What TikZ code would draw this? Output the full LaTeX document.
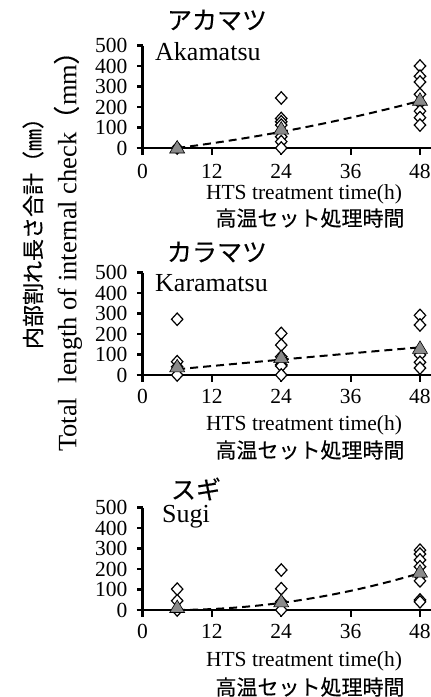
\documentclass[tikz,border=0pt]{standalone}
\usepackage{fontspec}
\setmainfont{Liberation Serif}
\newfontfamily\jfont[FakeBold=0.3]{Noto Sans CJK JP}
\definecolor{trigray}{HTML}{8A8A8A}
\tikzset{
  dmd/.pic={\draw[line width=1.2pt,fill=white] (-5.7pt,0)--(0,6.2pt)--(5.7pt,0)--(0,-6.2pt)--cycle;},
  tri/.pic={\draw[line width=0.6pt,fill=trigray] (0,7.5pt)--(-7.5pt,-5pt)--(7.5pt,-5pt)--cycle;},
  axisline/.style={line width=2.7pt},
  tickline/.style={line width=2.2pt},
  trend/.style={line width=2pt, dash pattern=on 8pt off 5pt},
  ticklab/.style={font=\fontsize{21.5}{21.5}\selectfont, inner sep=0pt},
  xlab/.style={font=\fontsize{21.5}{22}\selectfont, inner sep=0pt},
  jxlab/.style={font=\jfont\fontsize{21}{22}\selectfont, inner sep=0pt},
  title/.style={font=\jfont\fontsize{25}{26}\selectfont, inner sep=0pt},
  species/.style={font=\fontsize{26}{27}\selectfont, inner sep=0pt, anchor=base west}
}
\newcommand\drawaxes[2]{%
  \draw[axisline] (0,500) -- (0,0) -- ++(0,-7pt);
  \draw[axisline] (0,0) ++(-6pt,0) -- (50,0);
  \foreach \v in {100,200,300,400,500} {\draw[tickline] (0,\v) -- ++(-6pt,0);}
  \foreach \t in {12,24,36,48} {\draw[tickline] (\t,0) -- ++(0,-7pt);}
  \foreach \v in {0,100,200,300,400,500} {\node[ticklab, anchor=east, xshift=-15pt] (#1y\v) at (0,\v) {\v};}
  \foreach \t in {0,12,24,36,48} {\node[ticklab, yshift=-#2pt] (#1x\t) at (\t,0) {\t};}
}
\begin{document}
\begin{tikzpicture}[x=1pt,y=1pt]
\useasboundingbox (0,0) rectangle (431,-697);
\fill[white] (0,0) rectangle (431,-697);

% ---------- Panel 1: Akamatsu ----------
\begin{scope}[shift={(142.5pt,-148pt)}, x=5.781pt, y=0.205pt]
  \drawaxes{a}{23}
  \foreach \v in {0} {\pic at (6,\v) {dmd};}
  \foreach \v in {244,144,128,112,79,55,31,0} {\pic at (24,\v) {dmd};}
  \foreach \v in {400,350,322,262,220,180,148,112} {\pic at (48,\v) {dmd};}
  \draw[trend] plot[domain=6:48, samples=40] (\x, {4.389*(\x-6)+0.0453*(\x-6)*(\x-24)});
  \pic at (6,0) {tri};
  \pic at (24,92) {tri};
  \pic at (48,233) {tri};
\end{scope}
\node[title] (t1) at (217,-20) {アカマツ};
\node[species] (s1) at (155,-60) {Akamatsu};
\node[xlab] (h1) at (304,-194) {HTS treatment time(h)};
\node[jxlab] (j1) at (310,-218) {高温セット処理時間};

% ---------- Panel 2: Karamatsu ----------
\begin{scope}[shift={(142.5pt,-375pt)}, x=5.781pt, y=0.205pt]
  \drawaxes{b}{21}
  \foreach \v in {272,65,40,0} {\pic at (6,\v) {dmd};}
  \foreach \v in {203,146,89,70,50,44,0} {\pic at (24,\v) {dmd};}
  \foreach \v in {291,244,98,62,34} {\pic at (48,\v) {dmd};}
  \draw[trend] plot[domain=6:48, samples=40] (\x, {28+2.611*(\x-6)-0.00265*(\x-6)*(\x-24)});
  \pic at (6,40) {tri};
  \pic at (24,85) {tri};
  \pic at (48,130) {tri};
\end{scope}
\node[title] (t2) at (217,-252) {カラマツ};
\node[species] (s2) at (155,-291) {Karamatsu};
\node[xlab] (h2) at (304,-425) {HTS treatment time(h)};
\node[jxlab] (j2) at (310,-450) {高温セット処理時間};

% ---------- Panel 3: Sugi ----------
\begin{scope}[shift={(142.5pt,-610pt)}, x=5.781pt, y=0.205pt]
  \drawaxes{c}{21}
  \foreach \v in {102,45,0} {\pic at (6,\v) {dmd};}
  \foreach \v in {195,104,40,0} {\pic at (24,\v) {dmd};}
  \foreach \v in {292,273,244,211,165,142,49,40} {\pic at (48,\v) {dmd};}
  \draw[trend] plot[domain=6:48, samples=40] (\x, {1.944*(\x-6)+0.0976*(\x-6)*(\x-24)});
  \pic at (6,12) {tri};
  \pic at (24,40) {tri};
  \pic at (48,185) {tri};
\end{scope}
\node[title] (t3) at (196,-489) {スギ};
\node[species] (s3) at (162,-522) {Sugi};
\node[xlab] (h3) at (304,-661) {HTS treatment time(h)};
\node[jxlab] (j3) at (310,-687) {高温セット処理時間};

% ---------- Y-axis labels ----------
\node[rotate=90, inner sep=0pt, font=\jfont\fontsize{22}{22}\selectfont] (yj) at (33,-228) {内部割れ長さ合計（㎜）};
\node[rotate=90, inner sep=0pt, font=\fontsize{26.5}{27}\selectfont] (ye) at (68,-245) {Total\hspace{0.3em} length of internal check{\jfont （}mm{\jfont ）}};
\end{tikzpicture}
\end{document}
